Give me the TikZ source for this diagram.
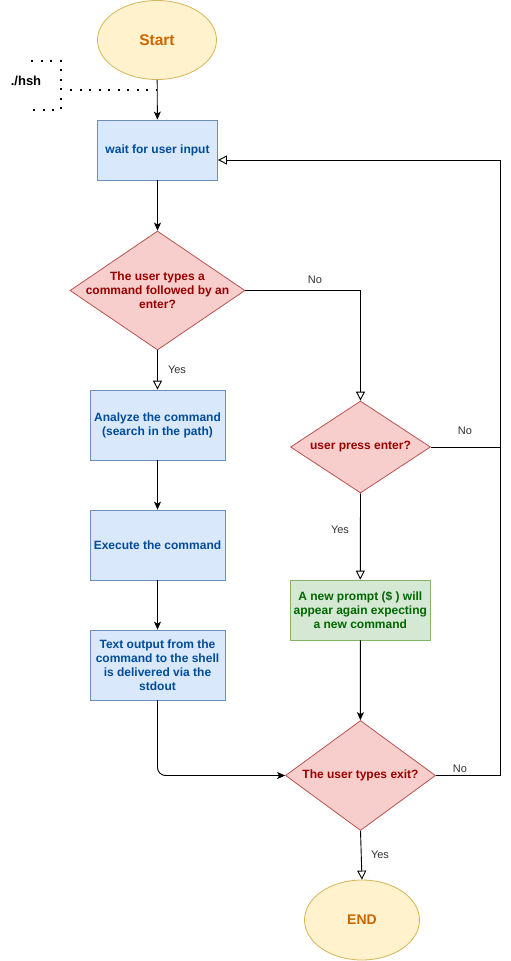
\documentclass[tikz,border=0pt]{standalone}
\usepackage{fontspec}
\setmainfont{Liberation Sans}
\usetikzlibrary{shapes.geometric,arrows.meta}
\definecolor{ylwfill}{HTML}{FFF2CC}
\definecolor{ylwline}{HTML}{D6B656}
\definecolor{ylwtext}{HTML}{CC6600}
\definecolor{bluefill}{HTML}{DAE8FC}
\definecolor{blueline}{HTML}{6C8EBF}
\definecolor{bluetext}{HTML}{004C99}
\definecolor{redfill}{HTML}{F8CECC}
\definecolor{redline}{HTML}{B85450}
\definecolor{redtext}{HTML}{990000}
\definecolor{grnfill}{HTML}{D5E8D4}
\definecolor{grnline}{HTML}{82B366}
\definecolor{grntext}{HTML}{006600}
\definecolor{lbltext}{HTML}{333333}
\tikzset{
  txt/.style={font=\fontsize{12}{14}\selectfont\bfseries, align=center},
  terminal/.style={ellipse, draw=ylwline, fill=ylwfill, text=ylwtext, inner sep=0pt, line width=0.8pt, font=\bfseries},
  bluebox/.style={rectangle, draw=blueline, fill=bluefill, text=bluetext, txt, inner sep=0pt, line width=0.8pt, minimum width=135pt, minimum height=70pt},
  grnbox/.style={rectangle, draw=grnline, fill=grnfill, text=grntext, txt, inner sep=0pt, line width=0.8pt},
  decision/.style={diamond, draw=redline, fill=redfill, inner sep=0pt, line width=0.8pt},
  dtext/.style={txt, text=redtext},
  lbl/.style={font=\fontsize{11}{13}\selectfont, text=lbltext},
  arr/.style={line width=0.9pt, -{Stealth[length=8pt,width=7pt,inset=2pt]}},
  oarr/.style={line width=0.9pt, -{Triangle[open,length=9pt,width=9pt,fill=white]}},
  plain/.style={line width=0.9pt},
  dots/.style={line width=2pt, dash pattern=on 2pt off 7.5pt}
}
\begin{document}
\begin{tikzpicture}[x=1pt,y=-1pt]
\useasboundingbox[fill=white] (0,0) rectangle (511,961);

% nodes
\node[terminal, minimum width=119pt, minimum height=79pt, font=\fontsize{15.5}{18}\selectfont\bfseries] (start) at (157,40) {Start};
\node[bluebox, minimum width=120pt, minimum height=60pt] (wait) at (157.5,150) {wait for user input};
\node[decision, minimum width=175pt, minimum height=119pt] (d1) at (157.5,290.5) {};
\node[dtext] (d1t) at (157.5,290.5) {The user types a\\command followed by an\\enter?};
\node[bluebox] (analyze) at (157.5,425) {Analyze the command\\(search in the path)};
\node[bluebox] (exec) at (157.5,545) {Execute the command};
\node[bluebox] (textout) at (157.5,665) {Text output from the\\command to the shell\\is delivered via the\\stdout};
\node[decision, minimum width=140pt, minimum height=92pt] (d2) at (360.5,447) {};
\node[dtext] (d2t) at (360.5,447) {user press enter?};
\node[grnbox, minimum width=140pt, minimum height=60pt] (green) at (360.3,610) {A new prompt (\$ ) will\\appear again expecting\\a new command};
\node[decision, minimum width=150pt, minimum height=110pt] (d3) at (360.5,775.5) {};
\node[dtext] (d3t) at (360.5,775.5) {The user types exit?};
\node[terminal, minimum width=115pt, minimum height=80pt, font=\fontsize{14}{17}\selectfont\bfseries] (end) at (362,920) {END};

% ./hsh annotation
\node[font=\fontsize{13}{15}\selectfont\bfseries] (hsh) at (26,81) {./hsh};
\draw[dots] (31,60.5) -- (60.5,60.5) -- (60.5,110) -- (31,110);
\coordinate (hj) at (157,90);
\coordinate (hs) at (70,90);
\draw[dots] (hs) -- (hj);

% connectors
\draw[arr] (start) -- (wait);
\draw[arr] (wait) -- (d1);
\draw[oarr] (d1.east) -- (360.5,290.5) -- (d2.north);
\node[lbl] (no1) at (315,280) {No};
\draw[oarr] (d1.south) -- (analyze.north);
\node[lbl] (yes1) at (177,370) {Yes};
\draw[arr] (analyze) -- (exec);
\draw[arr] (exec) -- (textout);
\draw[arr, rounded corners=8pt] (textout.south) -- (157.5,775.5) -- (d3.west);
\draw[oarr] (d2.south) -- (green.north);
\node[lbl] (yes2) at (340,530) {Yes};
\draw[plain] (d2.east) -- (500,447);
\node[lbl] (no2) at (465,431) {No};
\draw[arr] (green) -- (d3);
\draw[oarr] (d3.east) -- (500,775.5) -- (500,160) -- (wait.east |- 0,160);
\node[lbl] (no3) at (460,769) {No};
\draw[oarr] (d3.south) -- (end.north);
\node[lbl] (yes3) at (380,855) {Yes};
\end{tikzpicture}
\end{document}
